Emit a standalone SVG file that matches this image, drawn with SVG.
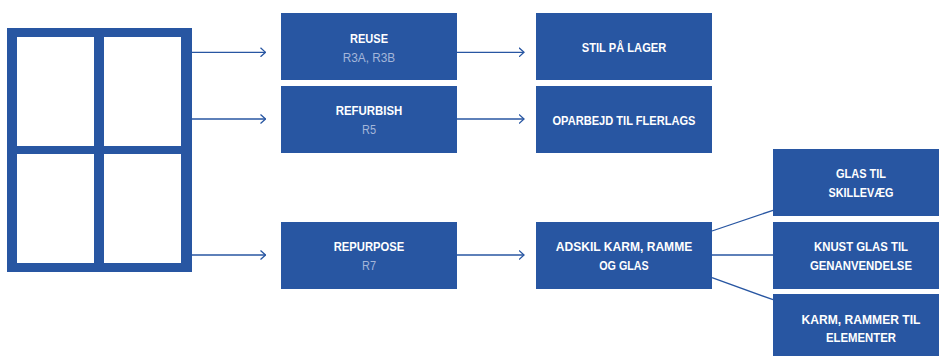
<svg xmlns="http://www.w3.org/2000/svg" width="939" height="356" viewBox="0 0 939 356">
<style>
.box{fill:#2856a2}
.t{font-family:"Liberation Sans",Arial,sans-serif;font-weight:bold;font-size:12.5px;fill:#ffffff;text-anchor:middle}
.s{font-family:"Liberation Sans",Arial,sans-serif;font-size:12.5px;fill:#a4b6da;text-anchor:middle}
.c{stroke:#2856a2;stroke-width:1.3;fill:none}
</style>
<defs>
<marker id="ah" viewBox="0 0 6 10" refX="5.5" refY="5" markerUnits="userSpaceOnUse" markerWidth="6" markerHeight="10" orient="auto">
<path d="M0.5,0.5 L5.5,5 L0.5,9.5" fill="none" stroke="#2856a2" stroke-width="1.3"/>
</marker>
</defs>
<g id="window">
<path class="box" fill-rule="evenodd" d="M7,28 H192 V272 H7 Z M17,37 V146 H94 V37 Z M104,37 V146 H181 V37 Z M17,154 V263 H94 V154 Z M104,154 V263 H181 V154 Z"/>
</g>
<g id="connectors">
<line class="c" x1="192" y1="52.3" x2="265.5" y2="52.3" marker-end="url(#ah)"/>
<line class="c" x1="192" y1="119" x2="265.5" y2="119" marker-end="url(#ah)"/>
<line class="c" x1="192" y1="255" x2="265.5" y2="255" marker-end="url(#ah)"/>
<line class="c" x1="457" y1="52.3" x2="524" y2="52.3" marker-end="url(#ah)"/>
<line class="c" x1="457" y1="119" x2="524" y2="119" marker-end="url(#ah)"/>
<line class="c" x1="457" y1="255" x2="524" y2="255" marker-end="url(#ah)"/>
<line class="c" x1="712" y1="231" x2="773" y2="210.3"/>
<line class="c" x1="712" y1="255" x2="773" y2="255"/>
<line class="c" x1="712" y1="277.7" x2="773" y2="299.7"/>
</g>
<g id="reuse">
<rect class="box" x="281" y="13" width="176" height="67"/>
<text class="t" x="369" y="43" textLength="38" lengthAdjust="spacingAndGlyphs">REUSE</text>
<text class="s" x="369" y="61.5" textLength="52.5" lengthAdjust="spacingAndGlyphs">R3A, R3B</text>
</g>
<g id="refurbish">
<rect class="box" x="281" y="86" width="176" height="67"/>
<text class="t" x="369" y="115" textLength="66.5" lengthAdjust="spacingAndGlyphs">REFURBISH</text>
<text class="s" x="369" y="133.5" textLength="14" lengthAdjust="spacingAndGlyphs">R5</text>
</g>
<g id="repurpose">
<rect class="box" x="281" y="222" width="176" height="67"/>
<text class="t" x="369" y="251" textLength="70.5" lengthAdjust="spacingAndGlyphs">REPURPOSE</text>
<text class="s" x="369" y="270" textLength="14" lengthAdjust="spacingAndGlyphs">R7</text>
</g>
<g id="stil">
<rect class="box" x="536" y="13" width="176" height="67"/>
<text class="t" x="624" y="52" textLength="84.5" lengthAdjust="spacingAndGlyphs">STIL PÅ LAGER</text>
</g>
<g id="oparbejd">
<rect class="box" x="536" y="86" width="176" height="67"/>
<text class="t" x="624" y="125" textLength="143" lengthAdjust="spacingAndGlyphs">OPARBEJD TIL FLERLAGS</text>
</g>
<g id="adskil">
<rect class="box" x="536" y="222" width="176" height="67"/>
<text class="t" x="624" y="251" textLength="136.5" lengthAdjust="spacingAndGlyphs">ADSKIL KARM, RAMME</text>
<text class="t" x="624" y="270" textLength="49.5" lengthAdjust="spacingAndGlyphs">OG GLAS</text>
</g>
<g id="glas">
<rect class="box" x="773" y="149" width="166" height="67"/>
<text class="t" x="861" y="178" textLength="50" lengthAdjust="spacingAndGlyphs">GLAS TIL</text>
<text class="t" x="861" y="197" textLength="65" lengthAdjust="spacingAndGlyphs">SKILLEVÆG</text>
</g>
<g id="knust">
<rect class="box" x="773" y="222" width="166" height="67"/>
<text class="t" x="861" y="251" textLength="94" lengthAdjust="spacingAndGlyphs">KNUST GLAS TIL</text>
<text class="t" x="861" y="270" textLength="102" lengthAdjust="spacingAndGlyphs">GENANVENDELSE</text>
</g>
<g id="karm">
<rect class="box" x="773" y="294" width="166" height="62"/>
<text class="t" x="861" y="324" textLength="119" lengthAdjust="spacingAndGlyphs">KARM, RAMMER TIL</text>
<text class="t" x="861" y="342" textLength="70" lengthAdjust="spacingAndGlyphs">ELEMENTER</text>
</g>
</svg>
